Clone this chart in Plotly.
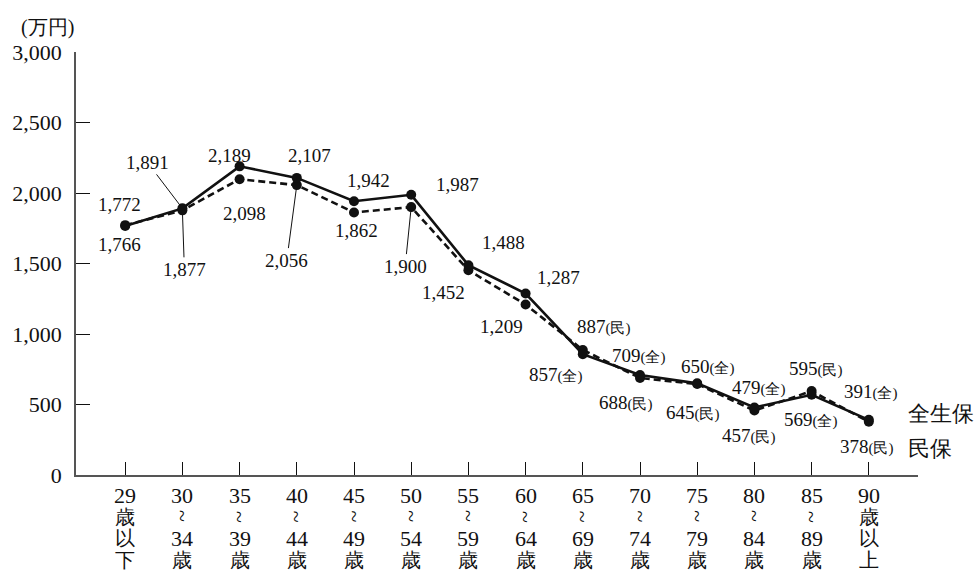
import re
import plotly.graph_objects as go

# Age groups (x categories)
age_groups = ["29歳以下", "30～34歳", "35～39歳", "40～44歳", "45～49歳",
              "50～54歳", "55～59歳", "60～64歳", "65～69歳", "70～74歳",
              "75～79歳", "80～84歳", "85～89歳", "90歳以上"]

# Amounts (万円)
zen_seiho = [1766, 1891, 2189, 2107, 1942, 1987, 1488, 1287, 857, 709, 650, 479, 569, 391]
min_po = [1772, 1877, 2098, 2056, 1862, 1900, 1452, 1209, 887, 688, 645, 457, 595, 378]

y_ticks = [0, 500, 1000, 1500, 2000, 2500, 3000]

# Series names drawn beside the last points
name_zen = "全生保"
name_min = "民保"

# Whether value labels carry a (全)/(民) tag (from 65～69歳 onward)
tagged = [False] * 8 + [True] * 6

# Pixel offsets of value labels (dx, dy; dy positive = downward); arrow=True draws a leader line
zen_pos = [(-6, 19, False), (-35, -46, True), (-10, -11, False), (13, -22, False),
           (14, -21, False), (46, -10, False), (35, -23, False), (33, -16, False),
           (-27, 20, False), (-1, -20, False), (11, -17, False), (5, -20, False),
           (-1, 25, False), (2, -28, False)]
min_pos = [(-6, -21, False), (2, 59, True), (5, 34, False), (-10, 75, True),
           (2, 18, False), (-6, 59, True), (-25, 22, False), (-24, 22, False),
           (21, -23, False), (-14, 25, False), (-4, 28, False), (-5, 25, False),
           (4, -23, False), (-2, 25, False)]

SERIF = "Liberation Serif"
INK = "#111111"

fig = go.Figure()

fig.add_trace(go.Scatter(
    x=age_groups, y=min_po, mode="lines+markers", name=name_min,
    line=dict(color=INK, width=2.6, dash="7px,4px"),
    marker=dict(color=INK, size=10), showlegend=False, hoverinfo="skip"))
fig.add_trace(go.Scatter(
    x=age_groups, y=zen_seiho, mode="lines+markers", name=name_zen,
    line=dict(color=INK, width=2.6),
    marker=dict(color=INK, size=10), showlegend=False, hoverinfo="skip"))

annotations = []


def value_text(v, tag):
    s = f"{v:,}"
    if tag:
        s += f"<span style='font-size:15px'>({tag})</span>"
    return s


for series, positions, tag in ((zen_seiho, zen_pos, "全"), (min_po, min_pos, "民")):
    for i, (v, (dx, dy, arrow)) in enumerate(zip(series, positions)):
        text = value_text(v, tag if tagged[i] else None)
        if arrow:
            annotations.append(dict(
                x=age_groups[i], y=v, xref="x", yref="y", text=text,
                showarrow=True, arrowhead=0, arrowwidth=1, arrowcolor=INK,
                ax=dx, ay=dy, standoff=0,
                font=dict(family=SERIF, size=19, color=INK)))
        else:
            annotations.append(dict(
                x=age_groups[i], y=v, xref="x", yref="y", text=text,
                showarrow=False, xshift=dx, yshift=-dy,
                xanchor="center", yanchor="middle",
                font=dict(family=SERIF, size=19, color=INK)))

# Vertical category labels below the x axis
def split_vertical(label):
    return re.findall(r"\d+|.", label)


for cat in age_groups:
    for k, part in enumerate(split_vertical(cat)):
        is_wave = part == "～"
        annotations.append(dict(
            x=cat, y=0, xref="x", yref="paper",
            text="~" if is_wave else part,
            textangle=90 if is_wave else 0,
            showarrow=False, xanchor="center", yanchor="middle",
            yshift=-(20 + 21.5 * k),
            font=dict(family=SERIF, size=22 if part.isdigit() or is_wave else 20,
                      color=INK)))

# Unit label and series names
annotations.append(dict(x=-0.034, y=1.058, xref="paper", yref="paper", text="(万円)",
                        showarrow=False, xanchor="center", yanchor="middle",
                        font=dict(family=SERIF, size=20, color=INK)))
annotations.append(dict(x=0.986, y=0.146, xref="paper", yref="paper", text=name_zen,
                        showarrow=False, xanchor="left", yanchor="middle",
                        font=dict(family=SERIF, size=22, color=INK)))
annotations.append(dict(x=0.986, y=0.063, xref="paper", yref="paper", text=name_min,
                        showarrow=False, xanchor="left", yanchor="middle",
                        font=dict(family=SERIF, size=22, color=INK)))

fig.update_layout(
    width=976, height=570,
    margin=dict(l=74, r=58, t=52, b=95),
    paper_bgcolor="white", plot_bgcolor="white",
    font=dict(family=SERIF, color=INK),
    annotations=annotations,
    xaxis=dict(type="category", categoryorder="array", categoryarray=age_groups,
               range=[-0.86, 13.86], showline=True, linecolor="#555555", linewidth=1.5,
               ticks="inside", ticklen=13, tickcolor=INK, tickwidth=1.2,
               showticklabels=False, showgrid=False, zeroline=False),
    yaxis=dict(range=[0, 3000], tickvals=y_ticks, tickformat=",",
               showline=True, linecolor="#555555", linewidth=1.5,
               ticks="inside", ticklen=14, tickcolor=INK, tickwidth=1.2,
               ticklabelstandoff=8,
               tickfont=dict(family=SERIF, size=22, color=INK),
               showgrid=False, zeroline=False),
)

fig.write_html("out.html")
